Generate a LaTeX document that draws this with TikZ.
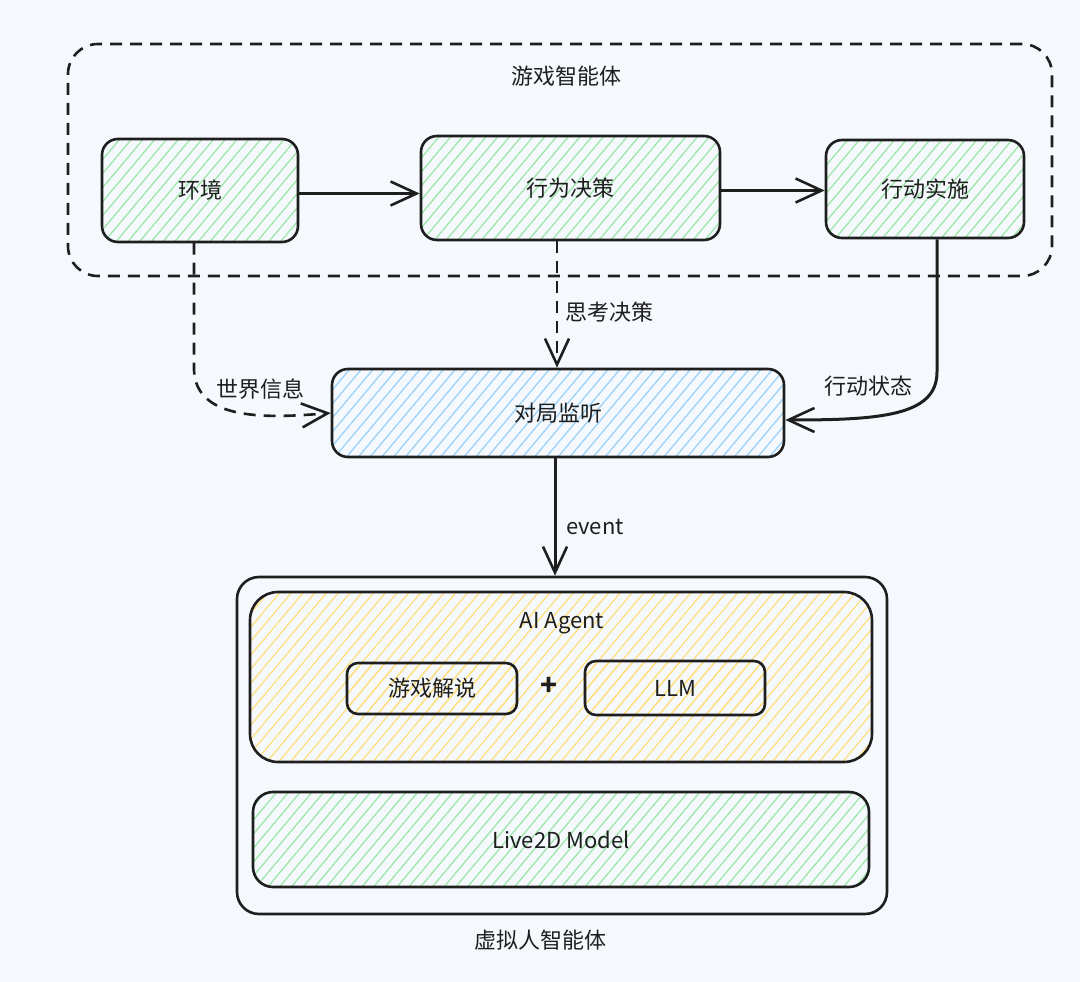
\documentclass[tikz,border=0pt]{standalone}
\usepackage{fontspec}
\setmainfont{Noto Sans CJK SC}
\usetikzlibrary{arrows.meta,patterns.meta}
\definecolor{bg}{HTML}{F5F9FD}
\definecolor{ink}{HTML}{1E1E1E}
\definecolor{hgreen}{HTML}{9EE6AA}
\definecolor{hblue}{HTML}{9CD2FA}
\definecolor{hyellow}{HTML}{FFE080}
\begin{document}
\begin{tikzpicture}[x=1pt,y=-1pt,
  txt/.style={font=\fontsize{22}{25}\selectfont, text=ink, inner sep=0pt},
  box/.style={draw=ink, line width=2.6pt, rounded corners=16pt, inner sep=0pt, font=\fontsize{22}{25}\selectfont, text=ink},
  ghatch/.style={pattern={Lines[angle=50,distance=9pt,line width=1.3pt]}, pattern color=hgreen},
  bhatch/.style={pattern={Lines[angle=50,distance=9pt,line width=1.3pt]}, pattern color=hblue},
  yhatch/.style={pattern={Lines[angle=50,distance=9pt,line width=1.3pt]}, pattern color=hyellow},
  barb/.tip={Straight Barb[length=26pt,width=24pt,line width=2.6pt]},
  conn/.style={draw=ink, line width=3pt, -barb},
  dconn/.style={conn, line width=2.6pt, dash pattern=on 12pt off 8pt},
]
% background
\fill[bg] (0,0) rectangle (1080,982);
\useasboundingbox (0,0) rectangle (1080,982);

% game agent group
\node[draw=ink, line width=2.6pt, dash pattern=on 12pt off 8pt, rounded corners=30pt,
      minimum width=984pt, minimum height=232pt, inner sep=0pt] (grp) at (560,160) {};
\node[txt] (grptitle) at (566,76) {游戏智能体};

\node[box, ghatch, minimum width=196pt, minimum height=103pt] (env) at (200,190.5) {环境};
\node[box, ghatch, minimum width=299pt, minimum height=104pt] (dec) at (570.5,188) {行为决策};
\node[box, ghatch, minimum width=198pt, minimum height=98pt] (act) at (925,189) {行动实施};

\node[box, bhatch, minimum width=452pt, minimum height=88pt] (mon) at (558,413) {对局监听};

% virtual human agent
\node[draw=ink, line width=2.6pt, rounded corners=22pt, minimum width=650pt, minimum height=337pt, inner sep=0pt] (vh) at (562,745.5) {};
\node[txt] (vhtitle) at (540,940) {虚拟人智能体};

\node[box, yhatch, rounded corners=28pt, minimum width=622pt, minimum height=170pt] (agent) at (561,677) {};
\node[txt] (agenttitle) at (562,623) {AI Agent};
\node[box, yhatch, rounded corners=11pt, minimum width=170pt, minimum height=51pt] (comm) at (432,688.5) {游戏解说};
\node[txt, font=\fontsize{28}{30}\selectfont\bfseries] (plus) at (549,686) {+};
\node[box, yhatch, rounded corners=11pt, minimum width=180pt, minimum height=54pt] (llm) at (675,688) {LLM};

\node[box, ghatch, rounded corners=20pt, minimum width=616pt, minimum height=95pt] (l2d) at (561,839.5) {Live2D Model};

% helper coordinates
\coordinate (xenv) at (194,0);
\coordinate (xthink) at (557,0);
\coordinate (xact) at (937,0);
\coordinate (xev) at (555,0);
\coordinate (envbend) at (194,370);
\coordinate (actbend) at (937,372);
\coordinate (yr1) at (0,193.5);
\coordinate (yr2) at (0,190.5);

% connectors
\draw[conn] (env.east |- yr1) -- (dec.west |- yr1);
\draw[conn] (dec.east |- yr2) -- (act.west |- yr2);
\draw[dconn] (env.south -| xenv) -- (envbend) .. controls (196,422) and (270,418) .. (mon.west);
\draw[dconn] (dec.south -| xthink) -- (mon.north -| xthink);
\draw[conn] (act.south -| xact) -- (actbend) .. controls (937,416) and (880,420) .. ([yshift=-7pt]mon.east);
\draw[conn] (mon.south -| xev) -- (vh.north -| xev);

% labels
\node[txt] (lworld) at (260,389) {世界信息};
\node[txt] (lthink) at (609,312) {思考决策};
\node[txt] (lstate) at (868,386) {行动状态};
\node[txt] (levent) at (595,527) {event};
\end{tikzpicture}
\end{document}
